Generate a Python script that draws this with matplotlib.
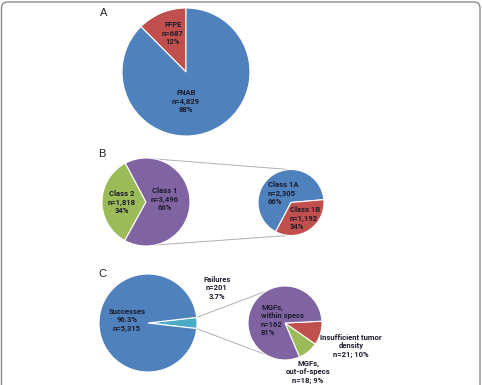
import numpy as np
import matplotlib.pyplot as plt
from matplotlib.patches import FancyBboxPatch

W, H = 482, 385

# panel A
a_labels = ['FFPE\nn=687\n12%', 'FNAB\nn=4,829\n88%']
a_values = [687, 4829]
# panel B
b_labels = ['Class 2\nn=1,818\n34%', 'Class 1\nn=3,496\n66%']
b_values = [1818, 3496]
b_sub_labels = ['Class 1A\nn=2,305\n66%', 'Class 1B\nn=1,192\n34%']
b_sub_values = [2305, 1192]
# panel C
c_labels = ['Failures\nn=201\n3.7%', 'Successes\n96.3%\nn=5,315']
c_values = [201, 5315]
c_sub_labels = ['MGFs,\nout-of-specs\nn=18; 9%', 'Insufficient tumor\ndensity\nn=21; 10%',
                'MGFs,\nwithin specs\nn=162\n81%']
c_sub_values = [18, 21, 162]

blue, red, green, purple, aqua = '#4F81BD', '#C0504D', '#9BBB59', '#8064A2', '#4BACC6'
txt = '#1c1c2c'
lab = dict(fontsize=5.5, fontweight='bold', color=txt, family='Roboto', linespacing=1.25)


def P(x, y):
    # pixel coords (top-left origin) -> data coords
    return (x, H - y)


def pie(ax, values, colors, center, r, start):
    wedges, _ = ax.pie(values, colors=colors, center=P(*center), radius=r, startangle=start,
                       wedgeprops=dict(edgecolor='white', linewidth=0.8), frame=True)
    return wedges


def edge(center, r, ang):
    x, y = P(*center)
    return x + r * np.cos(np.radians(ang)), y + r * np.sin(np.radians(ang))


fig = plt.figure(figsize=(W / 100, H / 100), dpi=100)
ax = fig.add_axes([0, 0, 1, 1])

# A
pie(ax, a_values, [red, blue], (186, 72), 64, 90)
ax.text(*P(173, 33), a_labels[0], ha='center', va='center', **lab)
ax.text(*P(186, 101), a_labels[1], ha='center', va='center', **lab)

# B
cB, rB = (146, 202), 44
cB2, rB2 = (291, 202.5), 33
for ang in (78, -78):
    p1, p2 = edge(cB, rB, ang), edge(cB2, rB2, ang)
    ax.plot([p1[0], p2[0]], [p1[1], p2[1]], color='#b0b0b0', lw=0.7, zorder=0)
pie(ax, b_values, [green, purple], cB, rB, 118)
pie(ax, b_sub_values, [blue, red], cB2, rB2, 5)
ax.text(*P(122, 202), b_labels[0], ha='center', va='center', **lab)
ax.text(*P(165, 199), b_labels[1], ha='center', va='center', **lab)
ax.text(*P(268, 193), b_sub_labels[0], ha='left', va='center', **lab)
ax.text(*P(290, 218), b_sub_labels[1], ha='left', va='center', **lab)

# C
cC, rC = (148, 323), 49
cC2, rC2 = (285, 323), 37
fail_ang = 360 * c_values[0] / sum(c_values)
for a1, a2 in ((fail_ang / 2, 121), (-fail_ang / 2, -121)):
    p1, p2 = edge(cC, rC, a1), edge(cC2, rC2, a2)
    ax.plot([p1[0], p2[0]], [p1[1], p2[1]], color='#b0b0b0', lw=0.7, zorder=0)
pie(ax, c_values, [aqua, blue], cC, rC, -fail_ang / 2)
pie(ax, c_sub_values, [green, red, purple], cC2, rC2, -67)
ax.text(*P(217, 288), c_labels[0], ha='center', va='center', **lab)
ax.text(*P(127, 320), c_labels[1], ha='center', va='center', **lab)
ax.text(*P(308, 372), c_sub_labels[0], ha='center', va='center', **lab)
ax.text(*P(351, 346), c_sub_labels[1], ha='center', va='center', **lab)
ax.text(*P(261, 320), c_sub_labels[2], ha='left', va='center', **lab)

# panel letters
for letter, (x, y) in zip('ABC', [(104, 13), (102, 154), (102, 274)]):
    ax.text(*P(x, y), letter, ha='center', va='center', fontsize=8, family='Liberation Sans', color='#222222')

# frame around the figure
ax.add_patch(FancyBboxPatch((1.5, -20), W - 3.5, H + 20 - 2, boxstyle='round,pad=0,rounding_size=6',
                            fill=False, edgecolor='#8a8a8a', lw=1.0, zorder=5))

ax.set_xlim(0, W)
ax.set_ylim(0, H)
ax.set_aspect('equal')
ax.axis('off')

fig.savefig('out.png', dpi=100)
